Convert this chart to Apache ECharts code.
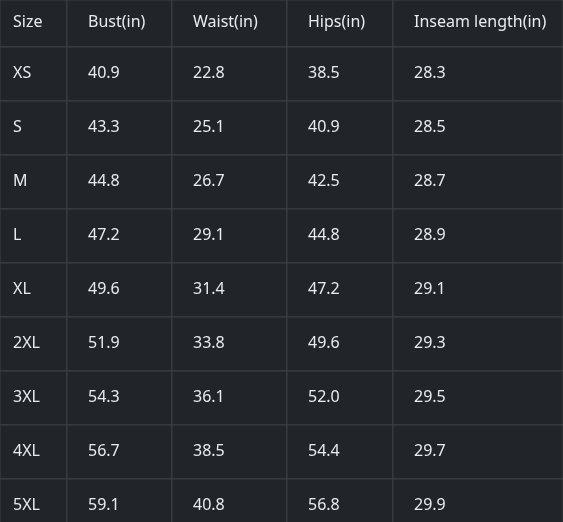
<!DOCTYPE html>
<html><head><meta charset="utf-8">
<script src="https://cdn.jsdelivr.net/npm/echarts@6/dist/echarts.min.js"></script>
<style>html,body{margin:0;padding:0;background:#212529;}#c{width:563px;height:522px;}</style>
</head><body><div id="c"></div>
<script>
const headers = ['Size','Bust(in)','Waist(in)','Hips(in)','Inseam length(in)'];
const sizes = ['XS','S','M','L','XL','2XL','3XL','4XL','5XL'];
const bust = ['40.9','43.3','44.8','47.2','49.6','51.9','54.3','56.7','59.1'];
const waist = ['22.8','25.1','26.7','29.1','31.4','33.8','36.1','38.5','40.8'];
const hips = ['38.5','40.9','42.5','44.8','47.2','49.6','52.0','54.4','56.8'];
const inseam = ['28.3','28.5','28.7','28.9','29.1','29.3','29.5','29.7','29.9'];

// layout (not data)
const colEdges = [0,67,172,287,393,563];
const headerH = 47, rowH = 54;
const rowTop = r => r === 0 ? 0 : headerH + (r-1)*rowH;
const rowBot = r => r === 0 ? headerH : headerH + r*rowH;

const cells = [];
headers.forEach((h,c)=>cells.push([c,0,h]));
const cols = [sizes,bust,waist,hips,inseam];
sizes.forEach((_,r)=>cols.forEach((arr,c)=>cells.push([c,r+1,arr[r]])));

const chart = echarts.init(document.getElementById('c'));
chart.setOption({
  backgroundColor:'#212529',
  animation:false,
  grid:{left:0,right:0,top:0,bottom:0},
  xAxis:{type:'value',min:0,max:563,show:false},
  yAxis:{type:'value',min:0,max:522,inverse:true,show:false},
  series:[{
    type:'custom',
    data:cells,
    renderItem:(params,api)=>{
      const c=api.value(0), r=api.value(1);
      const p0=api.coord([colEdges[c],rowTop(r)]);
      const p1=api.coord([colEdges[c+1],rowBot(r)]);
      const children=[{
        type:'rect',
        shape:{x:p0[0],y:p0[1],width:p1[0]-p0[0],height:p1[1]-p0[1]},
        style:{fill:'#212529',stroke:'#3b4045',lineWidth:1}
      },{
        type:'text',
        style:{x:p0[0]+(c===0?13:21),y:(p0[1]+p1[1])/2-1,text:cells[params.dataIndex][2],
          fill:'#e9ecef',font:'16px "Noto Sans", "DejaVu Sans", sans-serif',
          verticalAlign:'middle',align:'left'}
      }];
      return {type:'group',children};
    }
  }]
});
</script></body></html>
